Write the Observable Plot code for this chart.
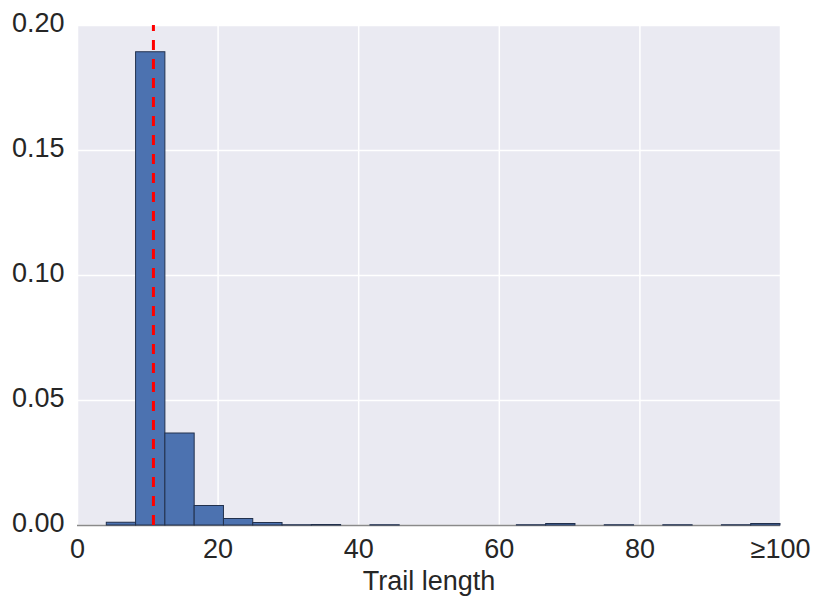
<!DOCTYPE html>
<html><head><meta charset="utf-8">
<script src="https://cdn.jsdelivr.net/npm/d3@7"></script>
<script src="https://cdn.jsdelivr.net/npm/@observablehq/plot@0.6"></script>
<style>body{margin:0;background:#fff;}</style>
</head><body><div id="chart"></div>
<script>
const binEdges = [0, 4.167, 8.333, 12.5, 16.667, 20.833, 25, 29.167, 33.333, 37.5, 41.667, 45.833, 50, 54.167, 58.333, 62.5, 66.667, 70.833, 75, 79.167, 83.333, 87.5, 91.667, 95.833, 100];
const density = [0, 0.0011, 0.1893, 0.0368, 0.0078, 0.0026, 0.0010, 0.0001, 0.0002, 0, 0.0001, 0, 0, 0, 0, 0.0001, 0.0006, 0, 0.0001, 0, 0.0001, 0, 0.0001, 0.0006];
const xTicks = [0, 20, 40, 60, 80, 100];
const xTickLabels = ["0", "20", "40", "60", "80", "≥100"];
const yTicks = [0, 0.05, 0.10, 0.15, 0.20];
const yTickLabels = ["0.00", "0.05", "0.10", "0.15", "0.20"];
const meanLength = [10.8];
const xLabel = "Trail length";

const bins = density.map((d, i) => ({x1: binEdges[i], x2: binEdges[i + 1], y: d}));
const font = "Arial, 'Liberation Sans', Helvetica, sans-serif";
const ink = "#262626";

const chart = Plot.plot({
  width: 831,
  height: 608,
  marginLeft: 77,
  marginRight: 51,
  marginTop: 25,
  marginBottom: 83,
  style: {fontFamily: font, fontSize: "27px", color: ink, background: "white"},
  x: {domain: [0, 100]},
  y: {domain: [0, 0.2]},
  marks: [
    Plot.frame({fill: "#EAEAF2", stroke: null}),
    Plot.gridX(xTicks, {stroke: "white", strokeOpacity: 1, strokeWidth: 1.5}),
    Plot.gridY(yTicks, {stroke: "white", strokeOpacity: 1, strokeWidth: 1.5}),
    Plot.ruleY([0], {stroke: "#8a8a8a", strokeWidth: 1.5}),
    Plot.rectY(bins.filter(b => b.y > 0), {x1: "x1", x2: "x2", y: "y", fill: "#4C72B0", stroke: "#22314d", strokeWidth: 1}),
    Plot.ruleX(meanLength, {y1: 0, y2: 0.2, stroke: "red", strokeWidth: 3, strokeDasharray: "10,9"}),
    Plot.axisX({ticks: xTicks, tickFormat: d => xTickLabels[xTicks.indexOf(d)], tickSize: 0, tickPadding: 13, fontSize: 27, fill: ink, label: null}),
    Plot.axisY({ticks: yTicks, tickFormat: d => yTickLabels[yTicks.indexOf(d)], tickSize: 0, tickPadding: 13, dy: -2, fontSize: 27, fill: ink, label: null}),
    Plot.text([xLabel], {text: d => d, frameAnchor: "bottom", dy: 45, lineAnchor: "top", fontSize: 27, fill: ink})
  ]
});
document.getElementById("chart").appendChild(chart);
</script>
</body></html>
